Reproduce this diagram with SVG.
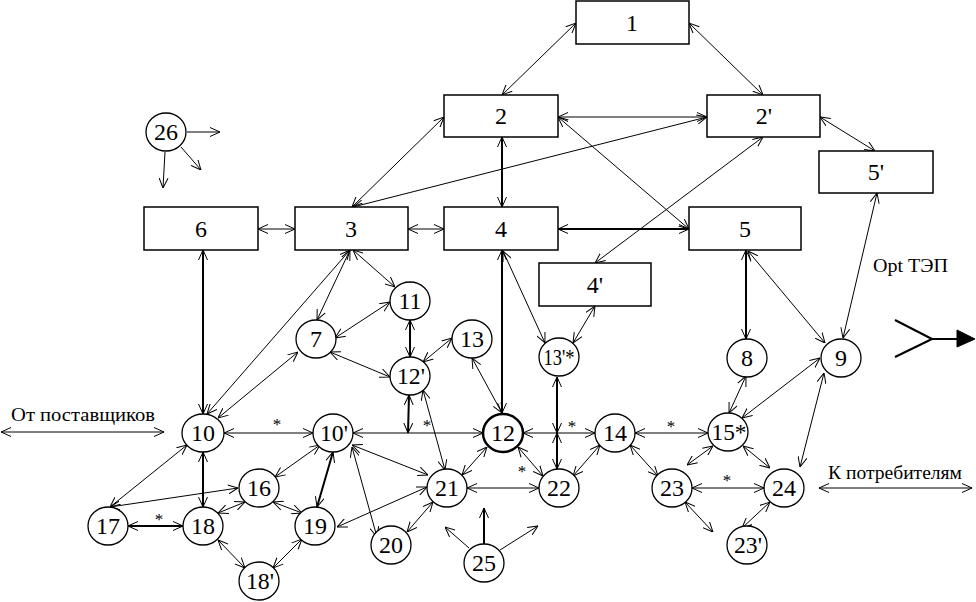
<svg xmlns="http://www.w3.org/2000/svg" width="976" height="602" viewBox="0 0 976 602">
<style>
.bx{fill:#fff;stroke:#000;stroke-width:1.5}
.nd{fill:#fff;stroke:#000;stroke-width:1.3}
.n{font-family:"Liberation Serif","Times New Roman",serif;font-size:24px;text-anchor:middle;fill:#000}
.lb{font-family:"Liberation Serif","Times New Roman",serif;font-size:19px;fill:#000}
.st{font-family:"Liberation Serif","Times New Roman",serif;font-size:17px;text-anchor:middle;fill:#000}
#conn line{stroke:#000;stroke-width:1;marker-start:url(#a);marker-end:url(#a)}
#conn line.t{stroke-width:2}
#conn line.u{marker-start:none}
</style>
<defs>
<marker id="a" viewBox="0 0 10 10" refX="10" refY="5" markerWidth="10" markerHeight="10" markerUnits="userSpaceOnUse" orient="auto-start-reverse">
<path d="M0,0.5 L10,5 L0,9.5" fill="none" stroke="#000" stroke-width="1"/>
</marker>
</defs>
<rect width="976" height="602" fill="#fff"/>
<g id="conn">
<line x1="576" y1="23" x2="502" y2="95"/>
<line x1="689" y1="23" x2="763" y2="95"/>
<line x1="558" y1="117" x2="707" y2="117"/>
<line x1="558" y1="117" x2="689" y2="229"/>
<line class="t" x1="502" y1="137" x2="502" y2="207"/>
<line x1="352" y1="207" x2="444" y2="117"/>
<line x1="353" y1="207" x2="707" y2="117"/>
<line x1="258" y1="229" x2="295" y2="229"/>
<line x1="408" y1="229" x2="444" y2="229"/>
<line class="t" x1="558" y1="229" x2="689" y2="229"/>
<line x1="763" y1="137" x2="595" y2="263"/>
<line x1="820" y1="117" x2="875" y2="151"/>
<line x1="877" y1="193" x2="843" y2="338"/>
<line class="t" x1="746" y1="250" x2="746" y2="339"/>
<line x1="748" y1="251" x2="825" y2="343"/>
<line x1="746" y1="376" x2="729" y2="413"/>
<line x1="820" y1="358" x2="742" y2="418"/>
<line x1="824" y1="373" x2="800" y2="467"/>
<line x1="713" y1="446" x2="687" y2="465"/>
<line x1="743" y1="446" x2="770" y2="468"/>
<line x1="692" y1="488" x2="764" y2="488"/>
<line x1="685" y1="502" x2="713" y2="532"/>
<line x1="770" y1="502" x2="742" y2="528"/>
<line x1="635" y1="433" x2="708" y2="433"/>
<line x1="630" y1="445" x2="658" y2="476"/>
<line x1="600" y1="445" x2="573" y2="476"/>
<line x1="523" y1="433" x2="595" y2="433"/>
<line class="t" x1="557" y1="377" x2="557" y2="433"/>
<line class="t" x1="557" y1="433" x2="557" y2="469"/>
<line class="t" x1="409" y1="395" x2="408" y2="433"/>
<line x1="353" y1="433" x2="483" y2="433"/>
<line x1="518" y1="447" x2="543" y2="476"/>
<line x1="487" y1="447" x2="462" y2="475"/>
<line x1="502" y1="413" x2="472" y2="358"/>
<line class="t" x1="502" y1="413" x2="502" y2="250"/>
<line x1="503" y1="251" x2="545" y2="343"/>
<line x1="595" y1="306" x2="573" y2="343"/>
<line x1="353" y1="250" x2="395" y2="287"/>
<line x1="350" y1="250" x2="317" y2="320"/>
<line x1="350" y1="250" x2="207" y2="414"/>
<line x1="298" y1="352" x2="218" y2="418"/>
<line class="t" x1="203" y1="250" x2="203" y2="414"/>
<line x1="335" y1="338" x2="390" y2="302"/>
<line x1="330" y1="352" x2="390" y2="377"/>
<line class="t" x1="410" y1="320" x2="410" y2="357"/>
<line x1="423" y1="362" x2="452" y2="338"/>
<line x1="423" y1="390" x2="445" y2="470"/>
<line x1="224" y1="433" x2="313" y2="433"/>
<line class="t" x1="203" y1="452" x2="203" y2="507"/>
<line x1="187" y1="445" x2="110" y2="507"/>
<line x1="110" y1="507" x2="238" y2="488"/>
<line class="t" x1="128" y1="526" x2="183" y2="526"/>
<line x1="218" y1="513" x2="245" y2="502"/>
<line x1="218" y1="540" x2="245" y2="568"/>
<line x1="302" y1="539" x2="273" y2="568"/>
<line x1="273" y1="502" x2="302" y2="513"/>
<line x1="275" y1="477" x2="320" y2="445"/>
<line class="t" x1="333" y1="452" x2="317" y2="507"/>
<line x1="352" y1="447" x2="377" y2="537"/>
<line x1="352" y1="445" x2="428" y2="475"/>
<line x1="337" y1="527" x2="427" y2="487"/>
<line x1="407" y1="532" x2="433" y2="502"/>
<line x1="467" y1="488" x2="539" y2="488"/>
<line class="u t" x1="484" y1="544" x2="484" y2="508"/>
<line class="u" x1="469" y1="548" x2="445" y2="527"/>
<line class="u" x1="500" y1="550" x2="538" y2="526"/>
<line class="u" x1="187" y1="132" x2="220" y2="132"/>
<line class="u" x1="165" y1="152" x2="163" y2="188"/>
<line class="u" x1="181" y1="147" x2="201" y2="170"/>
<line x1="1" y1="432" x2="164" y2="432"/>
<line x1="819" y1="488" x2="972" y2="488"/>
</g>
<g id="ytep" stroke="#000" stroke-width="2" fill="none">
<line x1="895" y1="320" x2="932" y2="339"/>
<line x1="895" y1="357" x2="932" y2="339"/>
<line x1="932" y1="339" x2="958" y2="339"/>
<polygon points="957,330 975,339 957,347" fill="#000" stroke-width="1"/>
</g>
<g id="n1"><rect class="bx" x="576" y="1" width="113" height="43"/><text class="n" x="632" y="31">1</text></g>
<g id="n2"><rect class="bx" x="444" y="95" width="114" height="42"/><text class="n" x="501" y="124">2</text></g>
<g id="n2p"><rect class="bx" x="707" y="95" width="113" height="42"/><text class="n" x="764" y="124">2'</text></g>
<g id="n5p"><rect class="bx" x="819" y="151" width="114" height="42"/><text class="n" x="876" y="180">5'</text></g>
<g id="n6"><rect class="bx" x="144" y="207" width="114" height="43"/><text class="n" x="201" y="237">6</text></g>
<g id="n3"><rect class="bx" x="295" y="207" width="113" height="43"/><text class="n" x="351" y="237">3</text></g>
<g id="n4"><rect class="bx" x="444" y="207" width="114" height="43"/><text class="n" x="501" y="237">4</text></g>
<g id="n5"><rect class="bx" x="689" y="207" width="112" height="43"/><text class="n" x="745" y="237">5</text></g>
<g id="n4p"><rect class="bx" x="539" y="263" width="112" height="43"/><text class="n" x="595" y="293">4'</text></g>
<g id="n7"><ellipse class="nd" cx="316" cy="339" rx="20" ry="19"/><text class="n" x="316" y="347">7</text></g>
<g id="n8"><ellipse class="nd" cx="747" cy="358" rx="20" ry="19"/><text class="n" x="747" y="366">8</text></g>
<g id="n9"><ellipse class="nd" cx="841" cy="358" rx="20" ry="19"/><text class="n" x="841" y="366">9</text></g>
<g id="n10"><ellipse class="nd" cx="203" cy="433" rx="21" ry="19"/><text class="n" x="203" y="441">10</text></g>
<g id="n10p"><ellipse class="nd" cx="333" cy="433" rx="20" ry="19"/><text class="n" x="334" y="441" textLength="28" lengthAdjust="spacingAndGlyphs">10'</text></g>
<g id="n11"><ellipse class="nd" cx="410" cy="301" rx="20" ry="19"/><text class="n" x="410" y="309">11</text></g>
<g id="n12"><ellipse class="nd" cx="503" cy="433" rx="20" ry="19" style="stroke-width:2.5"/><text class="n" x="503" y="441">12</text></g>
<g id="n12p"><ellipse class="nd" cx="410" cy="376" rx="20" ry="19"/><text class="n" x="411" y="384" textLength="28" lengthAdjust="spacingAndGlyphs">12'</text></g>
<g id="n13"><ellipse class="nd" cx="472" cy="339" rx="20" ry="19"/><text class="n" x="472" y="347">13</text></g>
<g id="n13ps"><ellipse class="nd" cx="559" cy="357" rx="20" ry="19"/><text class="n" x="559" y="365" textLength="31" lengthAdjust="spacingAndGlyphs">13'*</text></g>
<g id="n14"><ellipse class="nd" cx="615" cy="433" rx="20" ry="19"/><text class="n" x="615" y="441">14</text></g>
<g id="n15s"><ellipse class="nd" cx="728" cy="432" rx="20" ry="19"/><text class="n" x="729" y="440" textLength="35" lengthAdjust="spacingAndGlyphs">15*</text></g>
<g id="n16"><ellipse class="nd" cx="259" cy="488" rx="20" ry="19"/><text class="n" x="259" y="496">16</text></g>
<g id="n17"><ellipse class="nd" cx="108" cy="526" rx="20" ry="19"/><text class="n" x="108" y="534">17</text></g>
<g id="n18"><ellipse class="nd" cx="203" cy="526" rx="20" ry="19"/><text class="n" x="203" y="534">18</text></g>
<g id="n18p"><ellipse class="nd" cx="259" cy="581" rx="20" ry="19"/><text class="n" x="260" y="589" textLength="28" lengthAdjust="spacingAndGlyphs">18'</text></g>
<g id="n19"><ellipse class="nd" cx="315" cy="526" rx="20" ry="19"/><text class="n" x="315" y="534">19</text></g>
<g id="n20"><ellipse class="nd" cx="391" cy="545" rx="20" ry="19"/><text class="n" x="391" y="553">20</text></g>
<g id="n21"><ellipse class="nd" cx="447" cy="488" rx="20" ry="19"/><text class="n" x="447" y="496">21</text></g>
<g id="n22"><ellipse class="nd" cx="559" cy="488" rx="20" ry="19"/><text class="n" x="559" y="496">22</text></g>
<g id="n23"><ellipse class="nd" cx="672" cy="488" rx="20" ry="19"/><text class="n" x="672" y="496">23</text></g>
<g id="n23p"><ellipse class="nd" cx="747" cy="545" rx="20" ry="19"/><text class="n" x="748" y="553" textLength="28" lengthAdjust="spacingAndGlyphs">23'</text></g>
<g id="n24"><ellipse class="nd" cx="784" cy="488" rx="20" ry="19"/><text class="n" x="784" y="496">24</text></g>
<g id="n25"><ellipse class="nd" cx="484" cy="563" rx="20" ry="19"/><text class="n" x="484" y="571">25</text></g>
<g id="n26"><ellipse class="nd" cx="166" cy="132" rx="20" ry="19"/><text class="n" x="166" y="140">26</text></g>
<g id="labels">
<text class="lb" x="11" y="421" textLength="144" lengthAdjust="spacingAndGlyphs">От поставщиков</text>
<text class="lb" x="828" y="479" textLength="134" lengthAdjust="spacingAndGlyphs">К потребителям</text>
<text class="lb" x="873" y="272" textLength="75" lengthAdjust="spacingAndGlyphs">Opt ТЭП</text>
<text class="st" x="277" y="430">*</text>
<text class="st" x="427" y="431">*</text>
<text class="st" x="572" y="432">*</text>
<text class="st" x="671" y="432">*</text>
<text class="st" x="522" y="477">*</text>
<text class="st" x="727" y="486">*</text>
<text class="st" x="159" y="525">*</text>
</g>
</svg>
